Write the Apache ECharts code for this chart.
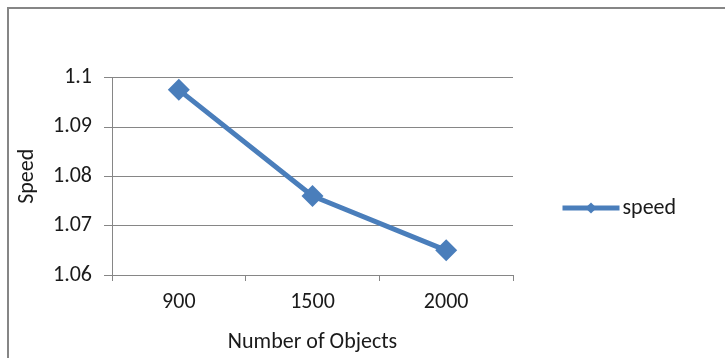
<!DOCTYPE html>
<html>
<head>
<meta charset="utf-8">
<script src="https://cdn.jsdelivr.net/npm/echarts@6/dist/echarts.min.js"></script>
<style>
  html, body { margin: 0; padding: 0; background: #fff; }
  #chart { width: 725px; height: 358px; }
</style>
</head>
<body>
<div id="chart"></div>
<script>
// data
var categories = ["900", "1500", "2000"];
var speed = [1.0975, 1.076, 1.065];
var yTicks = [1.06, 1.07, 1.08, 1.09, 1.1];

var chart = echarts.init(document.getElementById("chart"));
var font = "Carlito, Lato, sans-serif";
var txt = "#1a1a1a";
var option = {
  animation: false,
  textStyle: { fontFamily: font },
  grid: {
    left: 112,
    right: 212,
    top: 77.5,
    bottom: 83
  },
  legend: {
    data: ["speed"],
    left: 555,
    top: 192,
    itemWidth: 57,
    itemHeight: 14,
    itemGap: 4,
    lineStyle: { width: 5 },
    textStyle: { fontSize: 22, color: txt, fontFamily: font, padding: [0, 0, 0, -2] }
  },
  xAxis: {
    type: "category",
    data: categories,
    boundaryGap: true,
    name: "Number of Objects",
    nameLocation: "middle",
    nameGap: 56,
    nameTextStyle: { fontSize: 22, color: txt },
    axisLine: { lineStyle: { color: "#868686", width: 1 } },
    axisTick: { show: true, length: 6, lineStyle: { color: "#868686" } },
    axisLabel: { fontSize: 22, color: txt, margin: 16 }
  },
  yAxis: {
    type: "value",
    min: yTicks[0],
    max: yTicks[yTicks.length - 1],
    interval: 0.01,
    name: "Speed",
    nameLocation: "middle",
    nameGap: 74,
    nameRotate: 90,
    nameTextStyle: { fontSize: 22, color: txt },
    axisLine: { show: true, lineStyle: { color: "#868686" } },
    axisTick: { show: true, length: 8, inside: false, lineStyle: { color: "#868686" } },
    axisLabel: {
      fontSize: 22,
      color: txt,
      margin: 20,
      formatter: function (v) { return String(+v.toFixed(2)); }
    },
    splitLine: { show: true, lineStyle: { color: "#868686", width: 1 } }
  },
  series: [{
    name: "speed",
    type: "line",
    data: speed,
    symbol: "diamond",
    symbolSize: 22,
    lineStyle: { color: "#4a7ebb", width: 5 },
    itemStyle: { color: "#4a7ebb" }
  }],
  graphic: [{
    type: "polyline",
    shape: { points: [[8, 358], [8, 8], [725, 8]] },
    style: { stroke: "#868686", lineWidth: 2, fill: null }
  }]
};
chart.setOption(option);
</script>
</body>
</html>
